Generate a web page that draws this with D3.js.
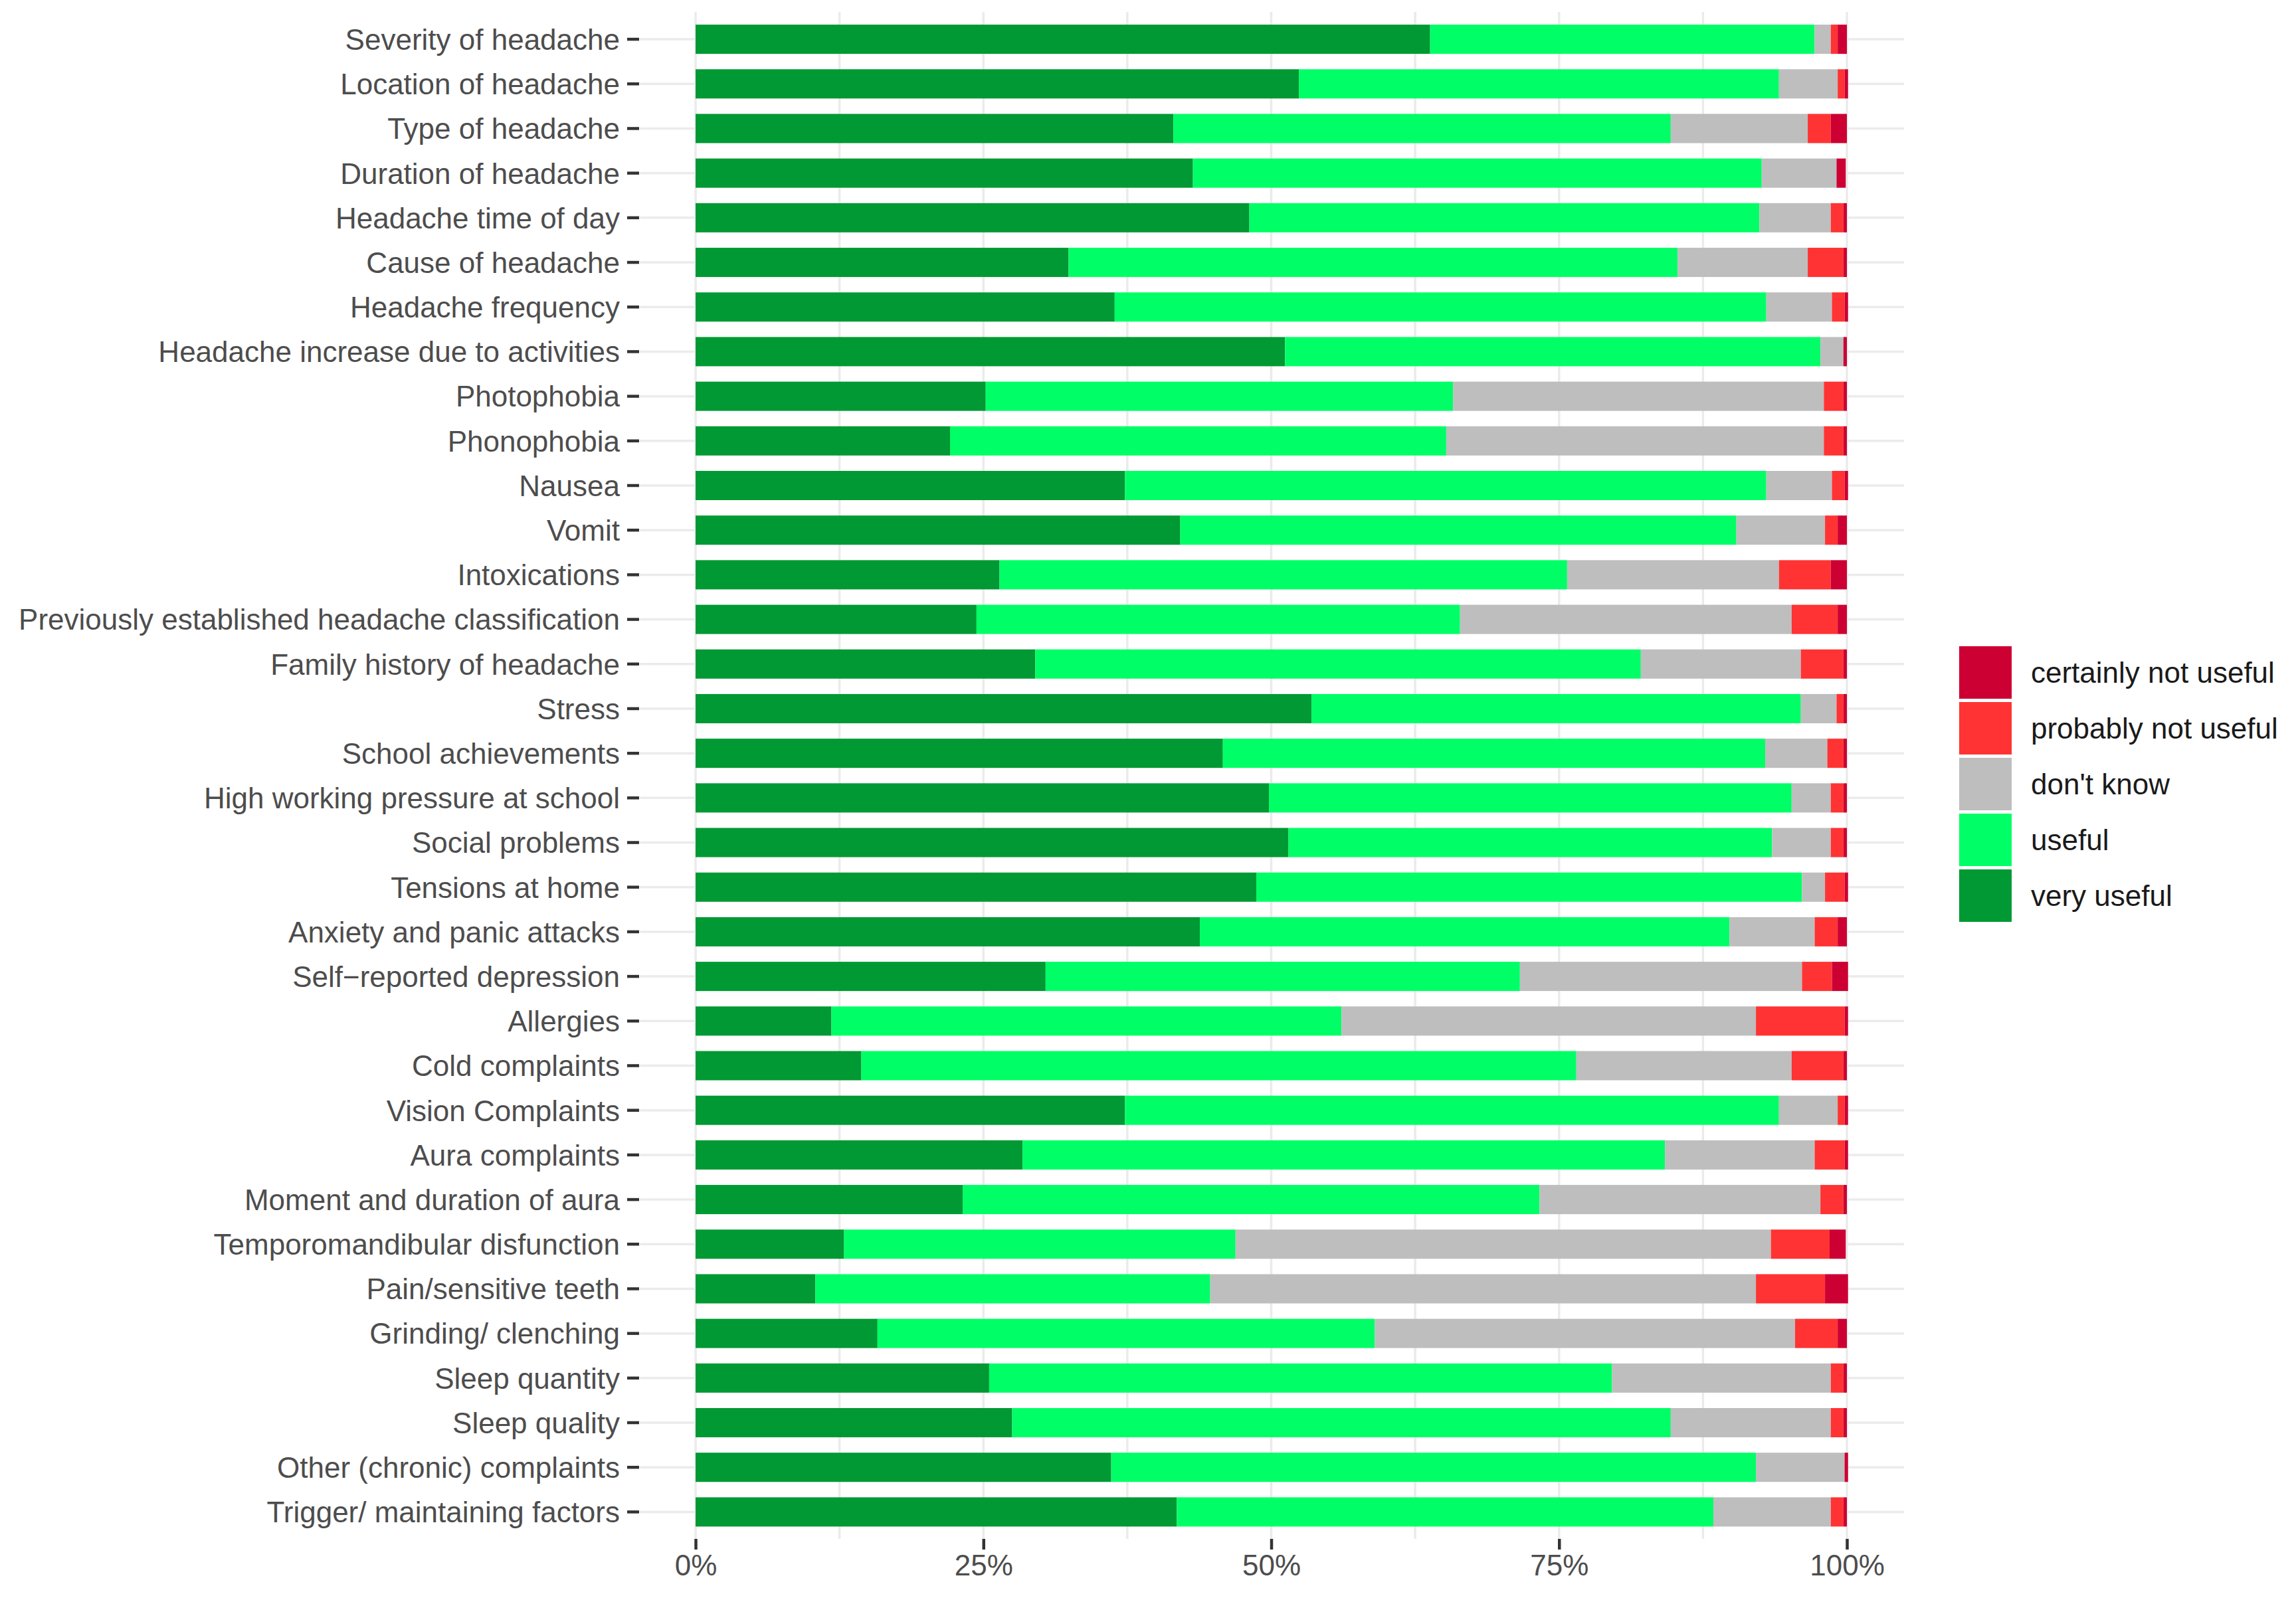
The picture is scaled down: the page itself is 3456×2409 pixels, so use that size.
<!DOCTYPE html>
<html>
<head>
<meta charset="utf-8">
<script src="https://cdn.jsdelivr.net/npm/d3@7"></script>
<style>
  body { margin: 0; background: #ffffff; }
  svg text { font-family: "Liberation Sans", Arial, sans-serif; }
</style>
</head>
<body>
<div id="chart"></div>
<script>
// Items (top to bottom)
var categories = [
  "Severity of headache", "Location of headache", "Type of headache",
  "Duration of headache", "Headache time of day", "Cause of headache",
  "Headache frequency", "Headache increase due to activities", "Photophobia",
  "Phonophobia", "Nausea", "Vomit", "Intoxications",
  "Previously established headache classification", "Family history of headache",
  "Stress", "School achievements", "High working pressure at school",
  "Social problems", "Tensions at home", "Anxiety and panic attacks",
  "Self\u2212reported depression", "Allergies", "Cold complaints",
  "Vision Complaints", "Aura complaints", "Moment and duration of aura",
  "Temporomandibular disfunction", "Pain/sensitive teeth", "Grinding/ clenching",
  "Sleep quantity", "Sleep quality", "Other (chronic) complaints",
  "Trigger/ maintaining factors"
];

// Shares in percent
var veryUseful   = [63.8, 52.4, 41.5, 43.2, 48.1, 32.4, 36.4, 51.2, 25.2, 22.1, 37.3, 42.1, 26.4, 24.4, 29.5, 53.5, 45.8,
                    49.8, 51.5, 48.7, 43.8, 30.4, 11.8, 14.4, 37.3, 28.4, 23.2, 12.9, 10.4, 15.8, 25.5, 27.5, 36.1, 41.8];
var useful       = [33.4, 41.7, 43.2, 49.4, 44.3, 52.9, 56.6, 46.5, 40.6, 43.1, 55.7, 48.3, 49.3, 42.0, 52.6, 42.5, 47.1,
                    45.4, 42.0, 47.4, 46.0, 41.2, 44.3, 62.1, 56.8, 55.8, 50.1, 34.0, 34.3, 43.2, 54.1, 57.2, 56.0, 46.6];
var dontKnow     = [ 1.4,  5.1, 11.9,  6.5,  6.2, 11.3,  5.7,  2.0, 32.2, 32.8,  5.7,  7.7, 18.4, 28.8, 13.9,  3.1,  5.4,
                     3.4,  5.1,  2.0,  7.4, 24.5, 36.0, 18.7,  5.1, 13.0, 24.4, 46.5, 47.4, 36.5, 19.0, 13.9,  7.7, 10.2];
var probablyNot  = [ 0.6,  0.6,  2.0,  0.0,  1.1,  3.1,  1.1,  0.0,  1.7,  1.7,  1.1,  1.1,  4.5,  4.0,  3.7,  0.6,  1.4,
                     1.1,  1.1,  1.7,  2.0,  2.6,  7.7,  4.5,  0.6,  2.6,  2.0,  5.1,  6.0,  3.7,  1.1,  1.1,  0.0,  1.1];
var certainlyNot = [ 0.8,  0.3,  1.4,  0.8,  0.3,  0.3,  0.3,  0.3,  0.3,  0.3,  0.3,  0.8,  1.4,  0.8,  0.3,  0.3,  0.3,
                     0.3,  0.3,  0.3,  0.8,  1.4,  0.3,  0.3,  0.3,  0.3,  0.3,  1.4,  2.0,  0.8,  0.3,  0.3,  0.3,  0.3];

// Answer levels in stacking order (left to right)
var levels = ["very useful", "useful", "don't know", "probably not useful", "certainly not useful"];
var levelColors = ["#009933", "#00FF66", "#BEBEBE", "#FF3333", "#CC0033"];

var xTicks = [0, 25, 50, 75, 100];
var xMinorTicks = [12.5, 37.5, 62.5, 87.5];

function makeChart() {
  var svgWidth = 3456;
  var svgHeight = 2409;

  // Panel edges (pixels)
  var panel = { left: 963, right: 2866, top: 18, bottom: 2317 };

  var svg = d3.select("#chart")
    .append("svg")
    .attr("width", svgWidth)
    .attr("height", svgHeight);

  svg.append("rect")
    .attr("width", svgWidth)
    .attr("height", svgHeight)
    .attr("fill", "#ffffff");

  // Build rows for the stack
  var rows = categories.map(function(c, i) {
    var r = { item: c };
    r[levels[0]] = veryUseful[i];
    r[levels[1]] = useful[i];
    r[levels[2]] = dontKnow[i];
    r[levels[3]] = probablyNot[i];
    r[levels[4]] = certainlyNot[i];
    return r;
  });

  var series = d3.stack().keys(levels)(rows);

  // Scales
  var xScale = d3.scaleLinear().domain([0, 100]).range([1047, 2780]);
  var yScale = d3.scaleBand()
    .domain(categories)
    .range([25.5, 2310])
    .paddingInner(0.345)
    .paddingOuter(0.1725);

  var color = d3.scaleOrdinal().domain(levels).range(levelColors);

  // Grid lines
  var grid = svg.append("g").attr("stroke", "#EBEBEB").attr("stroke-width", 3.5);

  grid.selectAll("line.hgrid")
    .data(categories)
    .enter()
    .append("line")
    .attr("x1", panel.left)
    .attr("x2", panel.right)
    .attr("y1", d => yScale(d) + yScale.bandwidth() / 2)
    .attr("y2", d => yScale(d) + yScale.bandwidth() / 2);

  grid.selectAll("line.vgrid")
    .data(xTicks.concat(xMinorTicks))
    .enter()
    .append("line")
    .attr("x1", d => xScale(d))
    .attr("x2", d => xScale(d))
    .attr("y1", panel.top)
    .attr("y2", panel.bottom);

  // Stacked bars
  svg.append("g")
    .selectAll("g")
    .data(series)
    .enter()
    .append("g")
    .attr("fill", d => color(d.key))
    .selectAll("rect")
    .data(d => d)
    .enter()
    .append("rect")
    .attr("x", d => xScale(d[0]))
    .attr("y", d => yScale(d.data.item))
    .attr("width", d => xScale(d[1]) - xScale(d[0]))
    .attr("height", yScale.bandwidth());

  // Y axis
  var leftAxis = d3.axisLeft(yScale).tickSize(18).tickPadding(11);
  var yAxis = svg.append("g")
    .attr("transform", `translate(${panel.left - 1}, 0)`)
    .call(leftAxis);
  yAxis.select(".domain").remove();
  yAxis.selectAll(".tick line").attr("stroke", "#333333").attr("stroke-width", 4.5);
  yAxis.selectAll(".tick text")
    .attr("fill", "#4D4D4D")
    .attr("font-size", 44)
    .attr("font-family", "Liberation Sans, Arial, sans-serif")
    .attr("dy", "0.36em");

  // X axis
  var bottomAxis = d3.axisBottom(xScale)
    .tickValues(xTicks)
    .tickFormat(d => d + "%")
    .tickSize(16)
    .tickPadding(8);
  var xAxis = svg.append("g")
    .attr("transform", `translate(0, ${panel.bottom})`)
    .call(bottomAxis);
  xAxis.select(".domain").remove();
  xAxis.selectAll(".tick line").attr("stroke", "#333333").attr("stroke-width", 4.5);
  xAxis.selectAll(".tick text")
    .attr("fill", "#4D4D4D")
    .attr("font-size", 44)
    .attr("font-family", "Liberation Sans, Arial, sans-serif")
    .attr("dy", "0.71em");

  // Legend (reverse order, top = certainly not useful)
  var legendLevels = levels.slice().reverse();
  var legend = svg.append("g").attr("transform", "translate(2949, 973)");
  var keyStep = 84;
  var keySize = 79;

  var items = legend.selectAll("g")
    .data(legendLevels)
    .enter()
    .append("g")
    .attr("transform", (d, i) => `translate(0, ${i * keyStep})`);

  items.append("rect")
    .attr("width", keySize)
    .attr("height", keySize)
    .attr("fill", d => color(d));

  items.append("text")
    .attr("x", 108)
    .attr("y", keySize / 2)
    .attr("dy", "0.36em")
    .attr("font-size", 44)
    .attr("fill", "#1A1A1A")
    .text(d => d);
}

makeChart();
</script>
</body>
</html>
